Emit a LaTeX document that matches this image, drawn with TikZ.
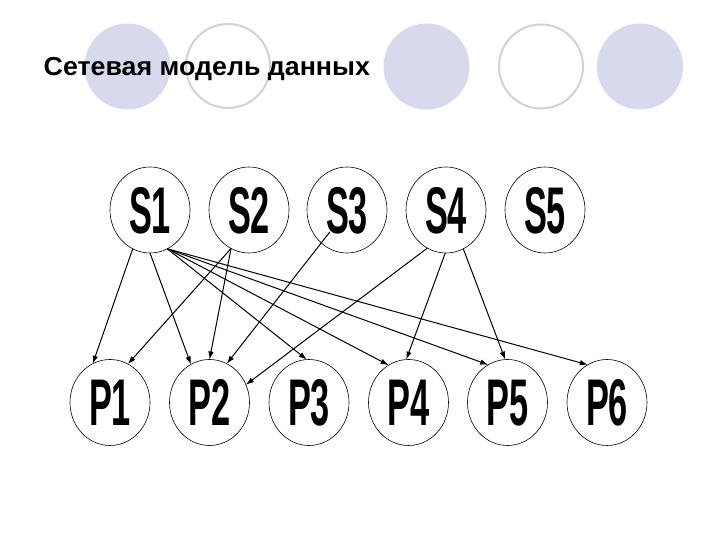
\documentclass[tikz,border=0pt]{standalone}
\usepackage{fontspec}
\usetikzlibrary{shapes.geometric,arrows.meta}
\newfontfamily\titlefont[FakeStretch=1.03]{Liberation Sans}
\newfontfamily\letterfont[FakeStretch=0.52]{Liberation Sans}
\definecolor{lav}{RGB}{217,217,238}
\definecolor{ringgray}{RGB}{208,208,222}
\begin{document}
\begin{tikzpicture}[x=1pt,y=1pt,
    ent/.style={ellipse,draw,line width=0.6pt,minimum width=80pt,minimum height=86pt,
      inner sep=0pt,outer sep=0pt,text height=47pt,text depth=0pt,
      font=\letterfont\bfseries\fontsize{66pt}{66pt}\selectfont},
    link/.style={line width=1pt,-{Latex[length=8pt,width=5.5pt]}}]
        \useasboundingbox (0,0) rectangle (720,540);
        %% circles behind the title
        \fill[lav] (127.5,473.5) circle (43pt);
        \draw[ringgray,line width=2pt] (228,474) circle (42pt);
        \fill[lav] (426.5,473.5) circle (43pt);
        \draw[ringgray,line width=2pt] (541,473.5) circle (42pt);
        \fill[lav] (640,473.5) circle (43pt);
        %% title
        \node[anchor=base west,inner sep=0pt,font=\titlefont\bfseries\fontsize{26pt}{26pt}\selectfont] (title) at (43.5,464.3) {Сетевая модель данных};
        %% upper row
        \node[ent] (S1) at (150,330) {S1};
        \node[ent] (S2) at (249,330) {S2};
        \node[ent] (S3) at (347,330) {S3};
        \node[ent] (S4) at (446,330) {S4};
        \node[ent] (S5) at (545,330) {S5};
        %% lower row
        \node[ent] (P1) at (110,137.5) {P1};
        \node[ent] (P2) at (209.5,137.5) {P2};
        \node[ent] (P3) at (309,137.5) {P3};
        \node[ent] (P4) at (408.5,137.5) {P4};
        \node[ent] (P5) at (507.5,137.5) {P5};
        \node[ent] (P6) at (607,137.5) {P6};
        %% links from S1
        \draw[link] (S1.-114) -- (P1.114);
        \draw[link] (S1.-90) -- (P2.116);
        \draw[link] (S1.-66) -- (P3.93);
        \draw[link] (S1.-66) -- (P4.118);
        \draw[link] (S1.-66) -- (P5.117);
        \draw[link] (S1.-66) -- (P6.117);
        %% links from S2 and S3
        \draw[link] (S2.-115) -- (P1.65);
        \draw[link] (S2.-115) -- (P2.90);
        \draw[link,shorten <=28pt] (S3.center) -- (P2.66);
        %% links from S4
        \draw[link] (S4.-116) -- (P2.26);
        \draw[link] (S4.-91) -- (P4.93);
        \draw[link] (S4.-66) -- (P5.93);
\end{tikzpicture}
\end{document}
